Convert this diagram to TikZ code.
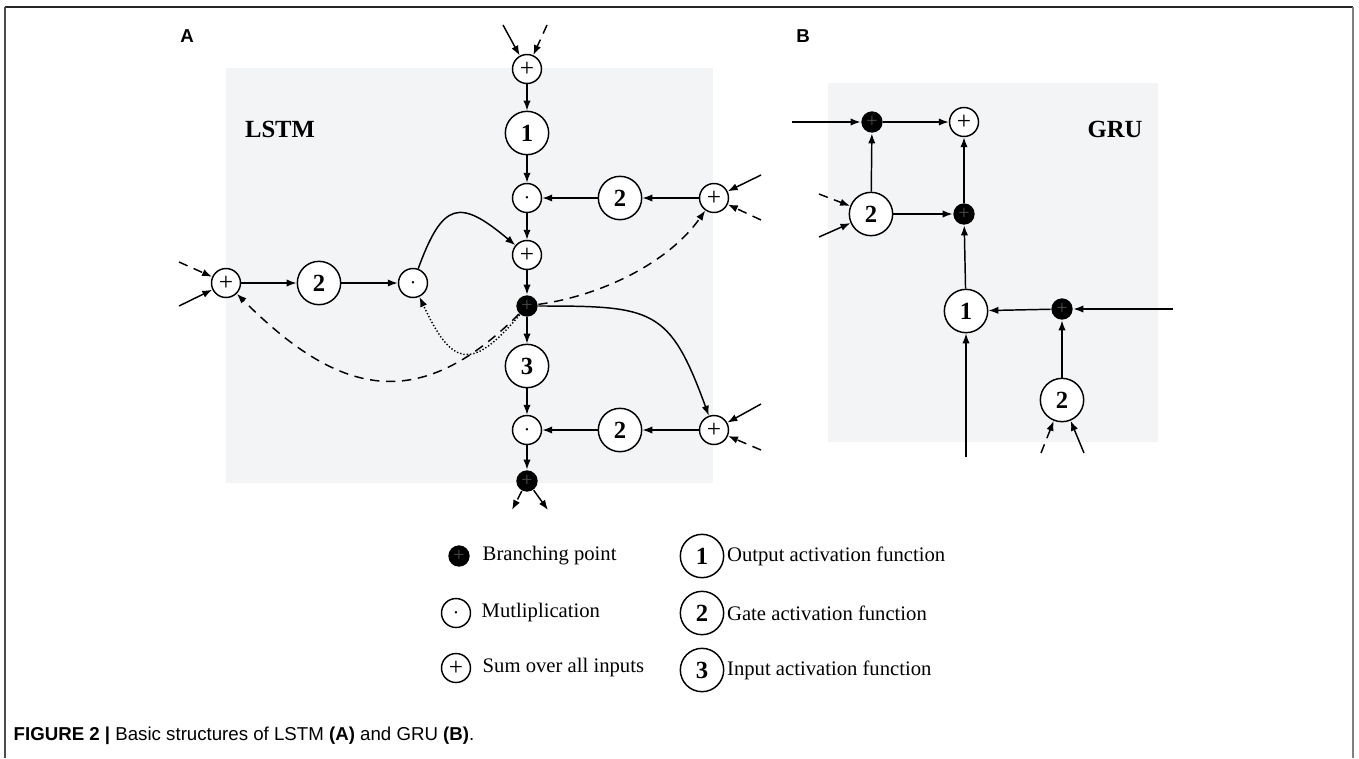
\documentclass[tikz,border=0pt]{standalone}
\usepackage{fontspec}
\setmainfont{Liberation Serif}
\newfontfamily\capfont{Liberation Sans}
\usetikzlibrary{arrows.meta,positioning}
\definecolor{boxgray}{RGB}{243,244,246}
\begin{document}
\begin{tikzpicture}[x=0.75pt,y=0.75pt,line width=1.1pt,>={Latex[length=7.5pt,width=5.5pt]}]
            \tikzstyle{every node}+=[inner sep=0pt]
            \tikzstyle{sum}=[draw,circle,fill=white,line width=1.1pt,minimum size=21.75pt,font=\fontsize{19}{19}\selectfont]
            \tikzstyle{fn}=[draw,circle,fill=white,line width=1.1pt,minimum size=32.5pt,font=\fontsize{18.5}{18.5}\selectfont\bfseries]
            \tikzstyle{bpoint}=[circle,fill=black,minimum size=16pt,text=black!70,font=\fontsize{15}{15}\selectfont]
            \tikzstyle{leg}=[font=\fontsize{15.5}{15.5}\selectfont]
            \tikzstyle{dashline}=[dash pattern=on 7pt off 5pt]
            \tikzstyle{dotline}=[dash pattern=on 1pt off 1.5pt]
            \useasboundingbox (0,0) rectangle (1359,-758);
            \draw [black!85,line width=1.6pt] (5,-7) -- (1353,-7);
            \draw [black!70,line width=1.1pt] (5,-7) -- (5,-758);
            \draw [black!50,line width=1.6pt] (1353,-7) -- (1353,-758);
            \fill [boxgray] (226,-68) rectangle (713,-483);
            \fill [boxgray] (828,-83) rectangle (1158,-442);
            \node [font=\capfont\bfseries\fontsize{14}{14}\selectfont] (labA) at (187,-36) {A};
            \node [font=\capfont\bfseries\fontsize{14}{14}\selectfont] (labB) at (803,-36) {B};
            \node [font=\fontsize{18.5}{18.5}\selectfont\bfseries] (lstm) at (280,-129) {LSTM};
            \node [font=\fontsize{18.5}{18.5}\selectfont\bfseries] (gru) at (1115,-129) {GRU};
            \node [sum] (sumT) at (527,-69) {+};
            \node [fn] (actO) at (527,-133) {1};
            \node [sum] (mulT) at (527,-198) {$\cdot$};
            \node [sum] (sumC) at (527,-255) {+};
            \node [bpoint] (brC) at (527,-306) {+};
            \node [fn] (actI) at (527,-366) {3};
            \node [sum] (mulB) at (527,-430) {$\cdot$};
            \node [bpoint] (brB) at (527,-481) {+};
            \node [fn] (gateT) at (620,-198) {2};
            \node [sum] (sumRT) at (714,-198) {+};
            \node [fn] (gateB) at (620,-430) {2};
            \node [sum] (sumRB) at (714,-430) {+};
            \node [sum] (sumL) at (226,-283) {+};
            \node [fn] (gateL) at (319,-283) {2};
            \node [sum] (mulL) at (413,-283) {$\cdot$};
            \coordinate (inT1) at (503,-25);
            \coordinate (inT2) at (547,-25);
            \coordinate (inRT1) at (761,-175);
            \coordinate (inRT2) at (761,-220);
            \coordinate (inRB1) at (761,-404);
            \coordinate (inRB2) at (761,-450);
            \coordinate (inL1) at (179,-262);
            \coordinate (inL2) at (179,-306);
            \coordinate (outB1) at (512,-510);
            \coordinate (outB2) at (548,-510);
            \draw [->] (inT1) -- (sumT);
            \draw [->,dashline] (inT2) -- (sumT);
            \draw [->] (sumT) -- (actO);
            \draw [->] (actO) -- (mulT);
            \draw [->] (mulT) -- (sumC);
            \draw [->] (sumC) -- (brC);
            \draw [->] (brC) -- (actI);
            \draw [->] (actI) -- (mulB);
            \draw [->] (mulB) -- (brB);
            \draw [->,dashline] (brB) -- (outB1);
            \draw [->] (brB) -- (outB2);
            \draw [->] (inRT1) -- (sumRT);
            \draw [->,dashline] (inRT2) -- (sumRT);
            \draw [->] (sumRT) -- (gateT);
            \draw [->] (gateT) -- (mulT);
            \draw [->] (inRB1) -- (sumRB);
            \draw [->,dashline] (inRB2) -- (sumRB);
            \draw [->] (sumRB) -- (gateB);
            \draw [->] (gateB) -- (mulB);
            \draw [->,dashline] (inL1) -- (sumL);
            \draw [->] (inL2) -- (sumL);
            \draw [->] (sumL) -- (gateL);
            \draw [->] (gateL) -- (mulL);
            \draw [->] (mulL) to [out=70,in=140,looseness=1.85] (sumC);
            \draw [->,dotline] (brC) to [out=230,in=-65,looseness=1.9] (mulL);
            \draw [->,dashline] (brC) to [out=225,in=-45,looseness=1.3] (sumL);
            \draw [->,dashline] (brC) to [out=8,in=235,looseness=0.85] (sumRT);
            \draw [->] (brC) to [out=0,in=110,looseness=1.45] (sumRB);
            \node [bpoint] (brG1) at (872,-122) {+};
            \node [sum] (sumG) at (964,-122) {+};
            \node [fn] (gateG1) at (871,-214) {2};
            \node [bpoint] (brG2) at (964,-214) {+};
            \node [fn] (actG) at (966,-311) {1};
            \node [bpoint] (brG3) at (1062,-309) {+};
            \node [fn] (gateG2) at (1062,-400) {2};
            \coordinate (inG1) at (792,-122);
            \coordinate (inG2) at (1173,-309);
            \coordinate (inG3) at (966,-457);
            \coordinate (inG4) at (1041,-453);
            \coordinate (inG5) at (1084,-453);
            \coordinate (inG6) at (819,-194);
            \coordinate (inG7) at (819,-237);
            \draw [->] (inG1) -- (brG1);
            \draw [->] (brG1) -- (sumG);
            \draw [->] (gateG1) -- (brG1);
            \draw [->] (gateG1) -- (brG2);
            \draw [->] (brG2) -- (sumG);
            \draw [->] (actG) -- (brG2);
            \draw [->] (brG3) -- (actG);
            \draw [->] (inG2) -- (brG3);
            \draw [->] (gateG2) -- (brG3);
            \draw [->] (inG3) -- (actG);
            \draw [->,dashline] (inG4) -- (gateG2);
            \draw [->] (inG5) -- (gateG2);
            \draw [->,dashline] (inG6) -- (gateG1);
            \draw [->] (inG7) -- (gateG1);
            \node [bpoint] (lgB) at (459,-556) {+};
            \node [leg,anchor=west] (lgBt) at (482,-556) {Branching point};
            \node [sum] (lgM) at (456,-613) {$\cdot$};
            \node [leg,anchor=west] (lgMt) at (481,-613) {Mutliplication};
            \node [sum] (lgS) at (456,-668) {+};
            \node [leg,anchor=west] (lgSt) at (482,-668) {Sum over all inputs};
            \node [fn] (lg1) at (702,-556) {1};
            \node [leg,right=1.5pt of lg1] (lg1t) {Output activation function};
            \node [fn] (lg2) at (702,-613) {2};
            \node [leg,right=1.5pt of lg2] (lg2t) {Gate activation function};
            \node [fn] (lg3) at (702,-670) {3};
            \node [leg,right=1.5pt of lg3] (lg3t) {Input activation function};
            \node [anchor=west,font=\capfont\fontsize{14}{14}\selectfont] (cap) at (13,-736) {\textbf{FIGURE 2 |} Basic structures of LSTM \textbf{(A)} and GRU \textbf{(B)}.};
        \end{tikzpicture}
\end{document}
